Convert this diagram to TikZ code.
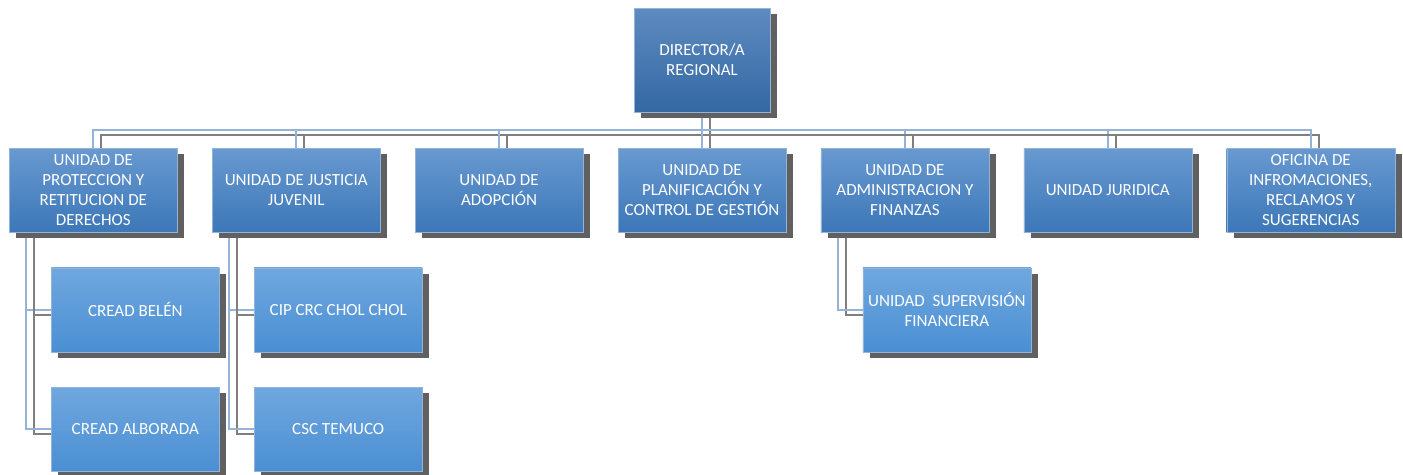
\documentclass[tikz,border=0pt]{standalone}
\usepackage{fontspec}
\setmainfont{Carlito}
\usetikzlibrary{positioning, backgrounds, shadows}
\definecolor{DirTop}{RGB}{94,139,192}
\definecolor{DirBottom}{RGB}{52,104,163}
\definecolor{UnitTop}{RGB}{104,153,208}
\definecolor{UnitBottom}{RGB}{60,119,184}
\definecolor{SubTop}{RGB}{112,167,223}
\definecolor{SubBottom}{RGB}{74,143,211}
\definecolor{EdgeBlue}{RGB}{149,179,215}
\definecolor{ShadowGray}{RGB}{96,96,96}
\definecolor{LineGray}{RGB}{127,127,127}

\begin{document}
\begin{tikzpicture}[x=1pt,y=1pt,node distance=34.5pt,
  box style/.style={
    draw=EdgeBlue,
    thin,
    top color=#1Top,
    bottom color=#1Bottom,
    text=white,
    rectangle,
    minimum width=168pt,
    minimum height=84pt,
    inner xsep=1pt,
    align=center,
    font=\fontsize{17}{20}\selectfont,
    drop shadow={shadow xshift=7pt,shadow yshift=-6pt,fill=ShadowGray,opacity=1},
  },
  link style/.style={
    EdgeBlue,
    line width=2pt
  },
  link shadow/.style={
    LineGray,
    line width=2pt,
    transform canvas={shift={(8pt,-5pt)}}
  }
]
\useasboundingbox (0,0) rectangle (1403,-474);

\node[box style=Dir, minimum width=136pt, minimum height=104pt] (DIR) at (702,-60) {DIRECTOR/A\\REGIONAL};

\node[box style=Unit, below=36pt of DIR] (PLA) {UNIDAD DE\\PLANIFICACIÓN Y\\CONTROL DE GESTIÓN};
\node[box style=Unit, left=of PLA] (ADO) {UNIDAD DE\\ADOPCIÓN};
\node[box style=Unit, left=of ADO] (JUV) {UNIDAD DE JUSTICIA\\JUVENIL};
\node[box style=Unit, left=of JUV] (PRO) {UNIDAD DE\\PROTECCION Y\\RETITUCION DE\\DERECHOS};
\node[box style=Unit, right=of PLA] (ADM) {UNIDAD DE\\ADMINISTRACION Y\\FINANZAS};
\node[box style=Unit, right=of ADM] (JUR) {UNIDAD JURIDICA};
\node[box style=Unit, right=of JUR] (OIR) {OFICINA DE\\INFROMACIONES,\\RECLAMOS Y\\SUGERENCIAS};

\node[box style=Sub, below=35pt of PRO, xshift=42pt] (BEL) {CREAD BELÉN};
\node[box style=Sub, below=35pt of BEL] (ALB) {CREAD ALBORADA};
\node[box style=Sub, below=35pt of JUV, xshift=42pt] (CIP) {CIP CRC CHOL CHOL};
\node[box style=Sub, below=35pt of CIP] (CSC) {CSC TEMUCO};
\node[box style=Sub, below=35pt of ADM, xshift=42pt] (SUP) {UNIDAD\ \ SUPERVISIÓN\\FINANCIERA};

\begin{pgfonlayer}{background}
\foreach \u in {PRO,JUV,ADO,PLA,ADM,JUR,OIR}{
  \draw[link shadow] (DIR.south) -- ++(0,-18) -| (\u.north);
  \draw[link style] (DIR.south) -- ++(0,-18) -| (\u.north);
}
\foreach \p/\c in {PRO/BEL,PRO/ALB,JUV/CIP,JUV/CSC,ADM/SUP}{
  \draw[link shadow] ([xshift=17pt]\p.south west) |- (\c.west);
  \draw[link style] ([xshift=17pt]\p.south west) |- (\c.west);
}
\end{pgfonlayer}

\end{tikzpicture}
\end{document}
